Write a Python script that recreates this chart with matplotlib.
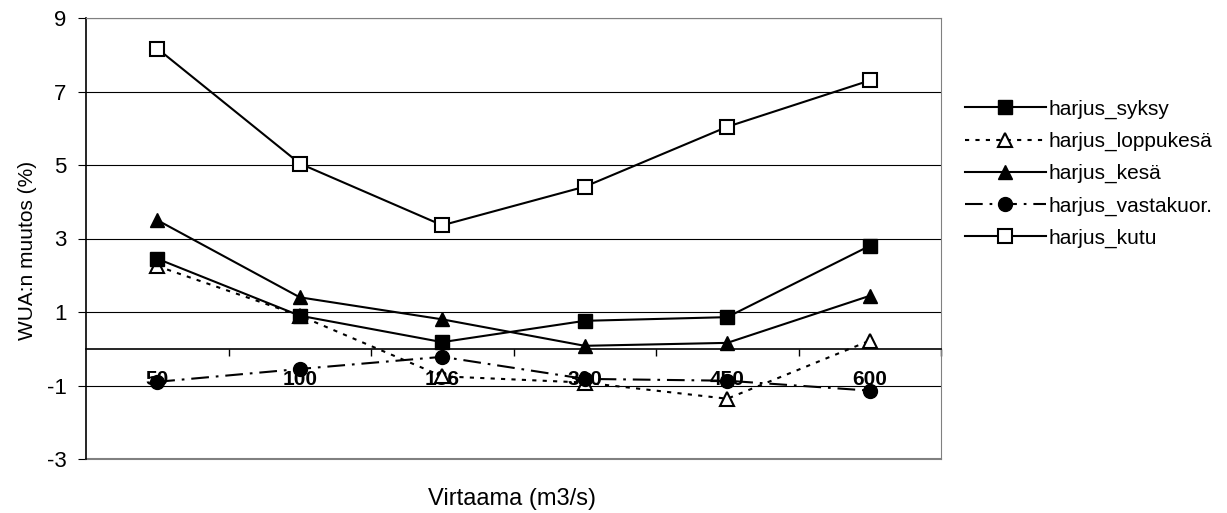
import matplotlib.pyplot as plt
import numpy as np

plt.rcParams['font.family'] = ['Liberation Sans', 'DejaVu Sans']
plt.rcParams['axes.unicode_minus'] = False

virtaama = ['50', '100', '186', '300', '450', '600']

syksy = [2.45, 0.9, 0.18, 0.76, 0.86, 2.8]
loppukesa = [2.25, 0.9, -0.75, -0.92, -1.36, 0.22]
kesa = [3.5, 1.4, 0.8, 0.08, 0.16, 1.44]
vastakuor = [-0.9, -0.55, -0.22, -0.82, -0.87, -1.14]
kutu = [8.17, 5.04, 3.36, 4.41, 6.04, 7.3]

x = np.arange(len(virtaama))

fig = plt.figure(figsize=(12.27, 5.13), dpi=100)
ax = fig.add_axes([86 / 1227, 1 - 459 / 513, (941 - 86) / 1227, (459 - 18) / 513])

lw = 1.5
ms = 10
ax.plot(x, syksy, color='black', lw=lw, marker='s', ms=ms, label='harjus_syksy', zorder=5)
ax.plot(x, loppukesa, color='black', lw=lw, marker='^', ms=ms, mfc='white', mew=1.5,
        dashes=(2, 3), label='harjus_loppukesä', zorder=4)
ax.plot(x, kesa, color='black', lw=lw, marker='^', ms=ms, label='harjus_kesä', zorder=5)
ax.plot(x, vastakuor, color='black', lw=lw, marker='o', ms=ms,
        dashes=(8.5, 3.3, 1.3, 3.3), label='harjus_vastakuor.', zorder=4)
ax.plot(x, kutu, color='black', lw=lw, marker='s', ms=ms, mfc='white', mew=1.5,
        label='harjus_kutu', zorder=5)

ax.set_xlim(-0.5, 5.5)
ax.set_ylim(-3, 9)
ax.set_yticks([-3, -1, 1, 3, 5, 7, 9])
ax.yaxis.grid(True, color='black', lw=0.8)
ax.set_axisbelow(True)

# x-akseli nollatasolla
ax.spines['bottom'].set_position(('data', 0))
ax.spines['bottom'].set_linewidth(1.2)
ax.set_xticks(x)
ax.set_xticklabels(virtaama, fontsize=15, fontweight='bold')
ax.set_xticks(np.arange(0.5, 6, 1), minor=True)
ax.tick_params(axis='x', which='major', length=0, pad=15)
ax.tick_params(axis='x', which='minor', length=5, direction='out', width=1)

ax.spines['top'].set_color('#808080')
ax.spines['right'].set_color('#808080')
ax.spines['left'].set_linewidth(1.2)
ax.tick_params(axis='y', length=6, pad=8, labelsize=16)
ax.axhline(-3, color='#808080', lw=1.5, clip_on=False)

ax.set_ylabel('WUA:n muutos (%)', fontsize=15)
ax.yaxis.set_label_coords(37 / 1227, 1 - 250 / 513, transform=fig.transFigure)
fig.text(512 / 1227, 1 - 499 / 513, 'Virtaama (m3/s)', ha='center', va='center', fontsize=17)

ax.legend(loc='upper left', bbox_to_anchor=(946 / 1227, 1 - 81 / 513), bbox_transform=fig.transFigure,
          frameon=False, fontsize=15, handlelength=3.9, labelspacing=0.62, handletextpad=0.1)

fig.savefig('out.png', dpi=100)
